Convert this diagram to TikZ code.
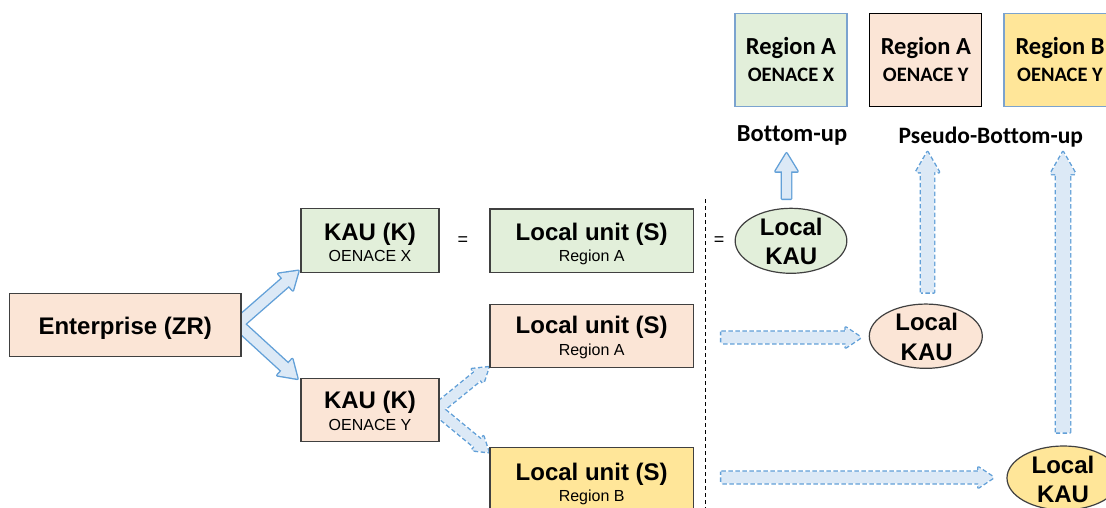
\documentclass[tikz,border=0pt]{standalone}
\usepackage{fontspec}
\setmainfont{Liberation Sans}
\newfontfamily\calfont[Ligatures=NoCommon]{Carlito}
\usetikzlibrary{calc,shapes.geometric}
\pgfdeclarelayer{bg}
\pgfsetlayers{bg,main}
\definecolor{gfill}{HTML}{E2EFDA}
\definecolor{pfill}{HTML}{FBE5D6}
\definecolor{yfill}{HTML}{FFE699}
\definecolor{boxline}{HTML}{404040}
\definecolor{topline}{HTML}{7BA3CF}
\definecolor{arrline}{HTML}{62A0D8}
\definecolor{arrfill}{HTML}{DCE9F6}
\tikzset{
  ubox/.style={draw=boxline, line width=1.2pt, rectangle, inner sep=0pt},
  uell/.style={draw=boxline, line width=1.2pt, ellipse, inner sep=0pt},
  tbox/.style={draw=topline, line width=1.2pt, rectangle, inner sep=0pt, minimum width=112pt, minimum height=93.4pt},
  bigt/.style={anchor=base, inner sep=0pt, font=\fontsize{24}{28}\selectfont\bfseries},
  smallt/.style={anchor=base, inner sep=0pt, font=\fontsize{16}{19}\selectfont},
  topt/.style={anchor=base, inner sep=0pt, font=\calfont\fontsize{24.5}{28}\selectfont\bfseries},
  topst/.style={anchor=base, inner sep=0pt, font=\calfont\fontsize{20.5}{24}\selectfont\bfseries},
  eqt/.style={anchor=center, inner sep=0pt, font=\fontsize{18}{20}\selectfont},
  arrstroke/.style={draw=arrline, line width=2.8pt, line join=round},
  arrdash/.style={draw=arrline, line width=2.8pt, line join=round, dash pattern=on 4.5pt off 2.5pt},
  arrbody/.style={fill=arrfill},
  divider/.style={draw=black, line width=1.2pt, dash pattern=on 4pt off 3pt}
}
% name, start, tip, shaft half width, head half width, head length
\newcommand\mkarr[6]{%
  \coordinate (#1h) at ($(#3)!#6!(#2)$);
  \coordinate (#1-1) at ($(#2)!#4!90:(#3)$);
  \coordinate (#1-2) at ($(#1h)!#4!90:(#3)$);
  \coordinate (#1-3) at ($(#1h)!#5!90:(#3)$);
  \coordinate (#1-4) at (#3);
  \coordinate (#1-5) at ($(#1h)!#5!-90:(#3)$);
  \coordinate (#1-6) at ($(#1h)!#4!-90:(#3)$);
  \coordinate (#1-7) at ($(#2)!#4!-90:(#3)$);
}
\newcommand\drawarr[2]{\path[#2] (#1-1) -- (#1-2) -- (#1-3) -- (#1-4) -- (#1-5) -- (#1-6) -- (#1-7) -- cycle;}
\begin{document}
\begin{tikzpicture}[x=1pt,y=-1pt]
\useasboundingbox (0,0) rectangle (1106,508);
\clip (0,0) rectangle (1106,508);

% boxes
\node[ubox, fill=pfill, minimum width=231.7pt, minimum height=63.4pt] (ent) at (125.2,325) {};
\node[ubox, fill=gfill, minimum width=138pt, minimum height=64pt] (kx) at (370,240.3) {};
\node[ubox, fill=pfill, minimum width=138pt, minimum height=63.4pt] (ky) at (370,410) {};
\node[ubox, fill=gfill, minimum width=203.3pt, minimum height=63.3pt] (lug) at (591.7,240.6) {};
\node[ubox, fill=pfill, minimum width=203.3pt, minimum height=63.4pt] (lup) at (591.7,336) {};
\node[ubox, fill=yfill, minimum width=203.3pt, minimum height=63.5pt] (luy) at (591.7,479.5) {};
\node[uell, fill=gfill, minimum width=111.7pt, minimum height=65pt] (lkg) at (791,240.8) {};
\node[uell, fill=pfill, minimum width=113pt, minimum height=64.3pt] (lkp) at (925.8,336.2) {};
\node[uell, fill=yfill, minimum width=113pt, minimum height=64pt] (lky) at (1063.5,478) {};
\node[tbox, fill=gfill] (tg) at (791,60) {};
\node[tbox, fill=pfill, draw=black] (tp) at (925.8,60) {};
\node[tbox, fill=yfill] (ty) at (1060,60) {};

% texts
\node[bigt] (entt) at (125.2,334) {Enterprise (ZR)};
\node[bigt] (kxt) at (370,240) {KAU (K)};
\node[smallt] (kxs) at (370,261.7) {OENACE X};
\node[bigt] (kyt) at (370,408.3) {KAU (K)};
\node[smallt] (kys) at (370,430) {OENACE Y};
\node[bigt] (lugt) at (591.7,240) {Local unit (S)};
\node[smallt] (lugs) at (591.7,261.5) {Region A};
\node[bigt] (lupt) at (591.7,333.3) {Local unit (S)};
\node[smallt] (lups) at (591.7,355) {Region A};
\node[bigt] (luyt) at (591.7,480) {Local unit (S)};
\node[smallt] (luys) at (591.7,501.7) {Region B};
\node[bigt] (lkg1) at (791.3,235) {Local};
\node[bigt] (lkg2) at (791.3,264) {KAU};
\node[bigt] (lkp1) at (926.7,330) {Local};
\node[bigt] (lkp2) at (926.7,360) {KAU};
\node[bigt] (lky1) at (1063,473.3) {Local};
\node[bigt] (lky2) at (1063,502) {KAU};
\node[topt] (tg1) at (791,55) {Region A};
\node[topst] (tg2) at (791,81.7) {OENACE X};
\node[topt] (tp1) at (925.8,55) {Region A};
\node[topst] (tp2) at (925.8,81.7) {OENACE Y};
\node[topt] (ty1) at (1060,55) {Region B};
\node[topst] (ty2) at (1060,81.7) {OENACE Y};
\node[topt] (bu) at (792,141.7) {Bottom-up};
\node[topt, font=\calfont\fontsize{23.5}{27}\selectfont\bfseries] (pbu) at (990.8,144) {Pseudo-Bottom-up};
\node[eqt] (eq1) at (463,241) {=};
\node[eqt] (eq2) at (719,241.5) {=};

% divider
\coordinate (divtop) at (705.7,199.3);
\coordinate (divbot) at (705.7,508);
\draw[divider] (divtop) -- (divbot);

% arrow geometry
\coordinate (es) at ($(ent.east)+(-4,-1)$);
\coordinate (e1t) at ($(kx.south west)+(-2,-2)$);
\coordinate (e2t) at ($(ky.north west)+(-3,1)$);
\mkarr{e1}{es}{e1t}{5pt}{11pt}{17pt}
\mkarr{e2}{es}{e2t}{5pt}{11pt}{17pt}
\coordinate (ds) at ($(ky.east)+(-3,-0.5)$);
\coordinate (d1t) at ($(lup.south west)+(-1,-1)$);
\coordinate (d2t) at ($(luy.north west)+(-1,5)$);
\mkarr{d1}{ds}{d1t}{5pt}{9pt}{14pt}
\mkarr{d2}{ds}{d2t}{5pt}{9pt}{14pt}
\coordinate (h1s) at ($(lup.east)+(27.4,1.5)$);
\coordinate (h1t) at ($(lkp.west)+(-8,1.3)$);
\mkarr{h1}{h1s}{h1t}{5.8pt}{10pt}{15pt}
\coordinate (h2s) at ($(luy.east)+(27.4,-2)$);
\coordinate (h2t) at ($(lky.west)+(-13,-0.5)$);
\mkarr{h2}{h2s}{h2t}{5.8pt}{10pt}{15pt}
\coordinate (u1s) at ($(lkg.north)+(-4.5,-9)$);
\coordinate (u1t) at ($(lkg.north)+(-4.5,-54.3)$);
\mkarr{u1}{u1s}{u1t}{4.5pt}{11pt}{18pt}
\coordinate (u2s) at ($(lkp.north)+(1.7,-11)$);
\coordinate (u2t) at ($(lkp.north)+(1.7,-151.3)$);
\mkarr{u2}{u2s}{u2t}{6.5pt}{11.5pt}{20pt}
\coordinate (u3s) at ($(lky.north)+(-0.5,-13)$);
\coordinate (u3t) at ($(lky.north)+(-0.5,-293.3)$);
\mkarr{u3}{u3s}{u3t}{7pt}{12.5pt}{22pt}

\begin{pgfonlayer}{bg}
\fill[white] (0,0) rectangle (1106,508);
\drawarr{e1}{arrstroke}
\drawarr{e2}{arrstroke}
\drawarr{e1}{arrbody}
\drawarr{e2}{arrbody}
\drawarr{d1}{arrdash}
\drawarr{d2}{arrdash}
\drawarr{d1}{arrbody}
\drawarr{d2}{arrbody}
\drawarr{h1}{arrdash}
\drawarr{h1}{arrbody}
\drawarr{h2}{arrdash}
\drawarr{h2}{arrbody}
\drawarr{u1}{arrstroke}
\drawarr{u1}{arrbody}
\drawarr{u2}{arrdash}
\drawarr{u2}{arrbody}
\drawarr{u3}{arrdash}
\drawarr{u3}{arrbody}
\end{pgfonlayer}
\end{tikzpicture}
\end{document}
